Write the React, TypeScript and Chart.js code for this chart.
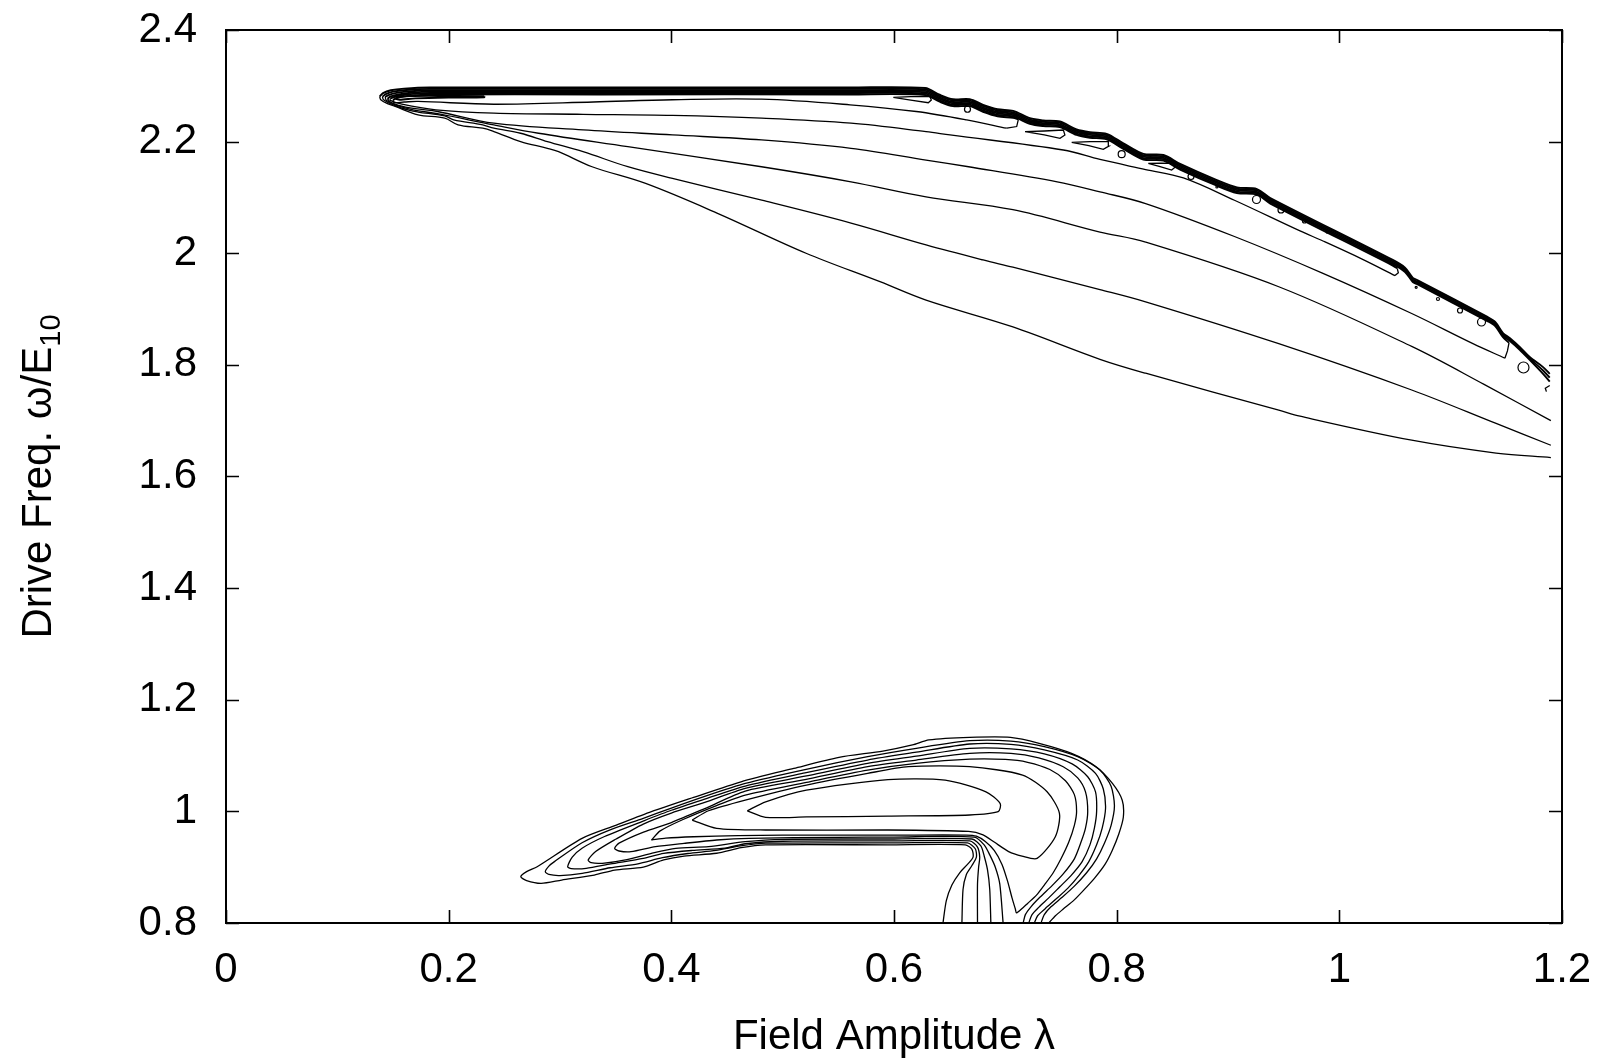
import { useEffect, useRef } from 'react';
import { Chart, registerables } from 'chart.js';

Chart.register(...registerables);

type Pt = [number, number];

// ---------- axes ----------
const xTickValues = [0, 0.2, 0.4, 0.6, 0.8, 1.0, 1.2];
const yTickValues = [0.8, 1.0, 1.2, 1.4, 1.6, 1.8, 2.0, 2.2, 2.4];
const xTitle = 'Field Amplitude λ';
const yTitleMain = 'Drive Freq. ω/E';
const yTitleSub = '10';

// ---------- upper resonance (ω ≈ 1.6 – 2.3) ----------
// ridge parts run from the right edge along the crest to the tip,
// lower parts run from the tip back out to the right
const ridgeF: Pt[] = [
  [1.189, 1.784], [1.183, 1.796], [1.171, 1.814], [1.162, 1.832], [1.153, 1.848], [1.147, 1.857],
  [1.140, 1.877], [1.133, 1.886], [1.070, 1.952], [1.066, 1.956], [1.059, 1.974], [1.048, 1.988],
  [0.938, 2.099], [0.926, 2.115], [0.908, 2.118], [0.890, 2.131], [0.857, 2.160], [0.842, 2.176],
  [0.824, 2.178], [0.806, 2.197], [0.791, 2.214], [0.776, 2.217], [0.764, 2.222], [0.749, 2.236],
  [0.734, 2.238], [0.722, 2.242], [0.707, 2.255], [0.693, 2.258], [0.680, 2.266], [0.668, 2.276],
  [0.653, 2.276], [0.641, 2.284], [0.628, 2.296], [0.560, 2.297], [0.336, 2.297], [0.183, 2.297],
  [0.160, 2.295], [0.148, 2.292], [0.141, 2.287], [0.138, 2.281],
];
const lowF: Pt[] = [
  [0.138, 2.281], [0.139, 2.275], [0.145, 2.268], [0.152, 2.263], [0.1725, 2.248], [0.1965, 2.242], [0.2084, 2.230],
  [0.2306, 2.224], [0.2406, 2.218], [0.2646, 2.200], [0.2887, 2.188], [0.2987, 2.182], [0.3288, 2.155],
  [0.3769, 2.125], [0.441, 2.072], [0.521, 2.000], [0.5874, 1.949], [0.6288, 1.916], [0.7068, 1.868],
  [0.785, 1.810], [0.826, 1.785], [0.9456, 1.719], [0.9647, 1.708], [1.065, 1.665], [1.1408, 1.642],
  [1.19, 1.634],
];

const ridgeE: Pt[] = [
  [1.189, 1.777], [1.183, 1.790], [1.171, 1.8115], [1.162, 1.8295], [1.153, 1.8455], [1.147, 1.8545],
  [1.140, 1.8745], [1.133, 1.8835], [1.070, 1.9495], [1.066, 1.9535], [1.059, 1.9715], [1.048, 1.9855],
  [0.938, 2.0965], [0.926, 2.1125], [0.908, 2.1155], [0.890, 2.1285], [0.857, 2.1575], [0.842, 2.1735],
  [0.824, 2.1755], [0.806, 2.1945], [0.791, 2.2115], [0.776, 2.2145], [0.764, 2.2195], [0.749, 2.2335],
  [0.734, 2.2355], [0.722, 2.2395], [0.707, 2.2525], [0.693, 2.2555], [0.680, 2.2635], [0.668, 2.2735],
  [0.653, 2.2735], [0.641, 2.2815], [0.628, 2.2935], [0.560, 2.2945], [0.336, 2.2945], [0.183, 2.2945],
  [0.162, 2.2925], [0.150, 2.2895], [0.1435, 2.285], [0.1405, 2.2805],
];
const lowE: Pt[] = [
  [0.1405, 2.2805], [0.1415, 2.275], [0.150, 2.266], [0.165, 2.256], [0.1725, 2.253], [0.1965, 2.246], [0.2045, 2.239],
  [0.2306, 2.230], [0.2406, 2.224], [0.2646, 2.215], [0.2887, 2.200], [0.3207, 2.182], [0.3609, 2.155],
  [0.401, 2.134], [0.4812, 2.095], [0.5614, 2.054], [0.6288, 2.015], [0.680, 1.988], [0.7068, 1.975],
  [0.785, 1.935], [0.826, 1.913], [0.9456, 1.838], [1.065, 1.755], [1.1408, 1.695], [1.19, 1.656],
];

const ridgeD: Pt[] = [
  [1.189, 1.770], [1.183, 1.784], [1.171, 1.809], [1.162, 1.827], [1.153, 1.843], [1.147, 1.852],
  [1.140, 1.872], [1.133, 1.881], [1.070, 1.947], [1.066, 1.951], [1.059, 1.969], [1.048, 1.983],
  [0.938, 2.094], [0.926, 2.110], [0.908, 2.113], [0.890, 2.126], [0.857, 2.155], [0.842, 2.171],
  [0.824, 2.173], [0.806, 2.192], [0.791, 2.209], [0.776, 2.212], [0.764, 2.217], [0.749, 2.231],
  [0.734, 2.233], [0.722, 2.237], [0.707, 2.250], [0.693, 2.253], [0.680, 2.261], [0.668, 2.271],
  [0.653, 2.271], [0.641, 2.279], [0.628, 2.291], [0.560, 2.292], [0.336, 2.292], [0.183, 2.292],
  [0.164, 2.290], [0.152, 2.287], [0.146, 2.2835], [0.143, 2.280],
];
const lowD: Pt[] = [
  [0.143, 2.280], [0.144, 2.274], [0.152, 2.266], [0.168, 2.257], [0.19, 2.250], [0.2406, 2.230], [0.2807, 2.215],
  [0.3609, 2.191], [0.481, 2.155], [0.5614, 2.128], [0.6288, 2.101], [0.7068, 2.078], [0.785, 2.038],
  [0.826, 2.020], [0.9456, 1.940], [1.065, 1.833], [1.13, 1.765], [1.19, 1.700],
];

// closed contours whose crest part ends in a hook under the ridge
const ridgeC: Pt[] = [
  [1.1524, 1.8395], [1.147, 1.8495], [1.140, 1.8695], [1.133, 1.8785], [1.070, 1.9445], [1.066, 1.9485],
  [1.059, 1.9665], [1.048, 1.9805], [0.938, 2.0915], [0.926, 2.1075], [0.908, 2.1105], [0.890, 2.1235],
  [0.857, 2.1525], [0.842, 2.1685], [0.824, 2.1705], [0.806, 2.1895], [0.791, 2.2065], [0.776, 2.2095],
  [0.764, 2.2145], [0.749, 2.2285], [0.734, 2.2305], [0.722, 2.2345], [0.707, 2.2475], [0.693, 2.2505],
  [0.680, 2.2585], [0.668, 2.2685], [0.653, 2.2685], [0.641, 2.2765], [0.628, 2.2885], [0.560, 2.2895],
  [0.336, 2.2895], [0.183, 2.2895], [0.166, 2.2875], [0.155, 2.2845], [0.148, 2.281], [0.145, 2.277],
];
const lowC: Pt[] = [
  [0.145, 2.277], [0.147, 2.272], [0.155, 2.265], [0.170, 2.259], [0.19, 2.254], [0.2406, 2.233], [0.3207, 2.221],
  [0.401, 2.212], [0.481, 2.203], [0.5614, 2.188], [0.6288, 2.167], [0.667, 2.155], [0.7466, 2.128],
  [0.785, 2.110], [0.826, 2.089], [0.9058, 2.030], [0.9853, 1.964], [1.065, 1.892], [1.12, 1.838],
  [1.1487, 1.812],
];
const hookC: Pt[] = [[1.1487, 1.812], [1.151, 1.825], [1.1524, 1.8395]];

const ridgeB: Pt[] = [
  [1.052, 1.973], [1.048, 1.978], [0.938, 2.089], [0.926, 2.105], [0.908, 2.108], [0.890, 2.121],
  [0.857, 2.150], [0.842, 2.166], [0.824, 2.168], [0.806, 2.187], [0.791, 2.204], [0.776, 2.207],
  [0.764, 2.212], [0.749, 2.226], [0.734, 2.228], [0.722, 2.232], [0.707, 2.245], [0.693, 2.248],
  [0.680, 2.256], [0.668, 2.266], [0.653, 2.266], [0.641, 2.274], [0.628, 2.286], [0.560, 2.287],
  [0.336, 2.287], [0.183, 2.287], [0.168, 2.2855], [0.158, 2.283], [0.151, 2.280], [0.1475, 2.277],
];
const lowB: Pt[] = [
  [0.1475, 2.277], [0.1475, 2.274], [0.158, 2.267], [0.1885, 2.257], [0.2406, 2.251], [0.3207, 2.249], [0.401, 2.247],
  [0.4812, 2.242], [0.5614, 2.233], [0.6288, 2.218], [0.6503, 2.212], [0.7521, 2.185], [0.785, 2.168],
  [0.826, 2.150], [0.8599, 2.135], [0.9058, 2.095], [0.9647, 2.040], [0.9853, 2.022], [1.02, 1.990],
  [1.05, 1.960],
];
const hookB: Pt[] = [[1.05, 1.960], [1.053, 1.965], [1.052, 1.973]];

const ridgeA: Pt[] = [
  [0.7117, 2.240], [0.707, 2.2425], [0.693, 2.2455], [0.680, 2.2535], [0.668, 2.2635], [0.653, 2.2635],
  [0.641, 2.2715], [0.628, 2.2835], [0.560, 2.2845], [0.336, 2.2845], [0.183, 2.2845], [0.170, 2.283],
  [0.160, 2.281], [0.153, 2.278], [0.150, 2.2745],
];
const lowA: Pt[] = [
  [0.150, 2.2745], [0.151, 2.270], [0.160, 2.271], [0.1725, 2.272], [0.2406, 2.267], [0.33, 2.271], [0.401, 2.275],
  [0.481, 2.276], [0.5605, 2.266], [0.620, 2.254], [0.6653, 2.239], [0.7013, 2.224],
];
const hookA: Pt[] = [[0.7013, 2.224], [0.7102, 2.227], [0.7117, 2.240]];

const tipLoop: Pt[] = [
  [0.232, 2.2815], [0.183, 2.2822], [0.165, 2.2815], [0.155, 2.2795], [0.1525, 2.277], [0.156, 2.275],
  [0.170, 2.2775], [0.200, 2.279], [0.232, 2.2795], [0.232, 2.2815],
];

// pockets trapped under the ridge
const pocket1: Pt[] = [
  [0.5994, 2.2794], [0.615, 2.2745], [0.6308, 2.2697], [0.6335, 2.2745], [0.6324, 2.2805], [0.615, 2.2808], [0.5994, 2.2794],
];
const pocket2: Pt[] = [
  [0.7177, 2.2178], [0.735, 2.212], [0.7491, 2.206], [0.7535, 2.212], [0.7521, 2.2208], [0.735, 2.219], [0.7177, 2.2178],
];
const pocket3: Pt[] = [
  [0.7596, 2.1988], [0.775, 2.193], [0.788, 2.1862], [0.793, 2.192], [0.7925, 2.1999], [0.776, 2.200], [0.7596, 2.1988],
];
const pocket4: Pt[] = [
  [0.8284, 2.1611], [0.839, 2.155], [0.8494, 2.1491], [0.853, 2.155], [0.8524, 2.1611], [0.840, 2.1615], [0.8284, 2.1611],
];
const edgeArc: Pt[] = [[1.186, 1.752], [1.185, 1.758], [1.189, 1.763]];

// small islands along the ridge
const islands: Pt[] = [
  [0.666, 2.258], [0.8045, 2.1775], [0.8668, 2.1375], [0.890, 2.1187], [0.9256, 2.0963], [0.9476, 2.0775],
  [0.9687, 2.0578], [0.989, 2.038], [1.0096, 2.020], [1.069, 1.939], [1.0886, 1.918], [1.1084, 1.8974],
  [1.1277, 1.8768], [1.1654, 1.7953],
];
const islandRadius = [3, 3.5, 3, 1, 4, 3, 2, 1, 1, 1, 1.5, 2.5, 4, 5.5];

// ---------- lower resonance (ω ≈ 0.8 – 1.13) ----------
const lobe1: Pt[] = [
  [0.4682, 1.001], [0.4847, 1.017], [0.5213, 1.038], [0.5946, 1.057], [0.6459, 1.056], [0.6826, 1.035],
  [0.6954, 1.014], [0.6936, 0.9994], [0.6679, 0.9935], [0.5946, 0.9915], [0.5213, 0.990], [0.4847, 0.9893],
  [0.4682, 1.001],
];
const lobe2: Pt[] = [
  [0.4187, 0.9845], [0.4334, 1.0011], [0.4664, 1.0203], [0.5213, 1.0472], [0.5763, 1.0681], [0.6129, 1.080],
  [0.6679, 1.080], [0.7155, 1.0651], [0.7375, 1.0352], [0.7486, 0.9966], [0.7449, 0.9546], [0.7285, 0.9158],
  [0.715, 0.920], [0.703, 0.928], [0.690, 0.945], [0.680, 0.958], [0.667, 0.964], [0.5946, 0.9666],
  [0.4847, 0.9666], [0.4407, 0.9696], [0.4187, 0.9845],
];
const lobe3: Pt[] = [
  [0.3821, 0.9487], [0.395, 0.952], [0.420, 0.9545], [0.460, 0.9565], [0.500, 0.9575], [0.600, 0.9575],
  [0.665, 0.9575], [0.674, 0.9555], [0.682, 0.946], [0.690, 0.930], [0.697, 0.905], [0.702, 0.875],
  [0.706, 0.845], [0.709, 0.825], [0.710, 0.818], [0.714, 0.824], [0.720, 0.835], [0.728, 0.850],
  [0.735, 0.868], [0.743, 0.890], [0.750, 0.915], [0.757, 0.945], [0.762, 0.975], [0.764, 1.000],
  [0.762, 1.030], [0.754, 1.055], [0.740, 1.075], [0.720, 1.088], [0.700, 1.093], [0.668, 1.0935],
  [0.620, 1.086], [0.5763, 1.074], [0.5213, 1.052], [0.4664, 1.0292], [0.440, 1.010], [0.410, 0.985],
  [0.390, 0.965], [0.3821, 0.9487],
];
const lobe4: Pt[] = [
  [0.698, 0.80], [0.695, 0.870], [0.691, 0.900], [0.686, 0.922], [0.681, 0.940], [0.672, 0.954],
  [0.600, 0.954], [0.550, 0.9535], [0.470, 0.9517], [0.4407, 0.9487], [0.4114, 0.9427], [0.3857, 0.9367],
  [0.3638, 0.9277], [0.353, 0.929], [0.3491, 0.9337], [0.353, 0.943], [0.375, 0.963], [0.400, 0.980],
  [0.430, 1.005], [0.4664, 1.0364], [0.520, 1.057], [0.5763, 1.080], [0.620, 1.092], [0.668, 1.104],
  [0.705, 1.104], [0.730, 1.096], [0.752, 1.080], [0.765, 1.060], [0.772, 1.035], [0.774, 1.000],
  [0.772, 0.970], [0.768, 0.945], [0.762, 0.915], [0.752, 0.888], [0.742, 0.867], [0.731, 0.846],
  [0.723, 0.829], [0.718, 0.815], [0.716, 0.80],
];
const lobe5: Pt[] = [
  [0.687, 0.80], [0.686, 0.860], [0.684, 0.895], [0.681, 0.920], [0.678, 0.938], [0.670, 0.9505],
  [0.600, 0.9505], [0.500, 0.950], [0.4664, 0.9457], [0.4334, 0.9367], [0.404, 0.9337], [0.3821, 0.9248],
  [0.3601, 0.9137], [0.338, 0.907], [0.328, 0.908], [0.3253, 0.913], [0.332, 0.928], [0.350, 0.950],
  [0.3748, 0.9773], [0.400, 0.997], [0.430, 1.016], [0.4664, 1.0413], [0.520, 1.063], [0.5763, 1.086],
  [0.620, 1.099], [0.668, 1.113], [0.705, 1.112], [0.735, 1.103], [0.760, 1.085], [0.774, 1.062],
  [0.781, 1.035], [0.782, 1.000], [0.780, 0.970], [0.776, 0.940], [0.769, 0.910], [0.759, 0.885],
  [0.749, 0.865], [0.739, 0.845], [0.730, 0.828], [0.724, 0.815], [0.721, 0.80],
];
const lobe6: Pt[] = [
  [0.675, 0.80], [0.675, 0.870], [0.676, 0.900], [0.677, 0.918], [0.675, 0.936], [0.668, 0.947],
  [0.600, 0.947], [0.500, 0.9465], [0.4664, 0.942], [0.4481, 0.934], [0.4187, 0.930], [0.3931, 0.9247],
  [0.3748, 0.9157], [0.3455, 0.9058], [0.3235, 0.8979], [0.310, 0.8975], [0.3069, 0.9009], [0.311, 0.918],
  [0.3198, 0.934], [0.340, 0.955], [0.3748, 0.9827], [0.400, 1.002], [0.430, 1.022], [0.4664, 1.0454],
  [0.520, 1.069], [0.5763, 1.092], [0.620, 1.106], [0.668, 1.1207], [0.705, 1.120], [0.735, 1.110],
  [0.765, 1.092], [0.781, 1.068], [0.788, 1.040], [0.790, 1.005], [0.787, 0.970], [0.782, 0.940],
  [0.775, 0.910], [0.766, 0.885], [0.756, 0.862], [0.745, 0.842], [0.736, 0.826], [0.729, 0.813],
  [0.726, 0.80],
];
const lobe7: Pt[] = [
  [0.661, 0.80], [0.662, 0.860], [0.665, 0.887], [0.670, 0.903], [0.674, 0.918], [0.673, 0.933],
  [0.666, 0.9435], [0.600, 0.9435], [0.485, 0.943], [0.462, 0.938], [0.440, 0.930], [0.415, 0.9245],
  [0.392, 0.917], [0.370, 0.906], [0.345, 0.899], [0.320, 0.889], [0.300, 0.885], [0.290, 0.887],
  [0.2868, 0.8919], [0.290, 0.902], [0.295, 0.910], [0.3198, 0.9438], [0.345, 0.967], [0.3748, 0.9875],
  [0.400, 1.006], [0.430, 1.027], [0.4664, 1.0502], [0.520, 1.075], [0.5763, 1.098], [0.620, 1.113],
  [0.668, 1.1266], [0.705, 1.126], [0.735, 1.116], [0.765, 1.098], [0.785, 1.074], [0.795, 1.045],
  [0.798, 1.010], [0.795, 0.975], [0.789, 0.943], [0.782, 0.915], [0.773, 0.890], [0.762, 0.866],
  [0.751, 0.846], [0.741, 0.829], [0.735, 0.815], [0.732, 0.80],
];
const lobe8: Pt[] = [
  [0.644, 0.80], [0.647, 0.840], [0.652, 0.868], [0.659, 0.890], [0.666, 0.905], [0.671, 0.918],
  [0.670, 0.932], [0.664, 0.940], [0.5946, 0.940], [0.4847, 0.940], [0.4627, 0.935], [0.4407, 0.925],
  [0.4114, 0.920], [0.3931, 0.913], [0.3748, 0.900], [0.3491, 0.8949], [0.3308, 0.8859], [0.3015, 0.877],
  [0.2831, 0.871], [0.270, 0.876], [0.2648, 0.8829], [0.270, 0.892], [0.2795, 0.9009], [0.3198, 0.9517],
  [0.350, 0.975], [0.3821, 0.9994], [0.420, 1.025], [0.4626, 1.053], [0.510, 1.077], [0.5506, 1.0968],
  [0.590, 1.108], [0.6166, 1.119], [0.6313, 1.128], [0.6679, 1.1326], [0.7046, 1.1326], [0.7303, 1.122],
  [0.7595, 1.104], [0.7815, 1.080], [0.7962, 1.050], [0.805, 1.020], [0.806, 0.990], [0.802, 0.960],
  [0.796, 0.930], [0.7895, 0.905], [0.780, 0.880], [0.770, 0.858], [0.7617, 0.841], [0.752, 0.825],
  [0.745, 0.813], [0.739, 0.80],
];

// crest lines pack into the dark ridge band
const crestPaths: Pt[][] = [ridgeF, ridgeE, ridgeD, ridgeC, ridgeB, ridgeA, tipLoop];
// smooth flanks
const flankPaths: Pt[][] = [lowF, lowE, lowD, lowC, lowB, lowA];
// sharp little features drawn straight
const sharpPaths: Pt[][] = [hookC, hookB, hookA, pocket1, pocket2, pocket3, pocket4, edgeArc];
const lobePaths: Pt[][] = [lobe1, lobe2, lobe3, lobe4, lobe5, lobe6, lobe7, lobe8];

const FONT = "'Liberation Sans', Arial, Helvetica, sans-serif";
const fmtTick = (v: number) => String(Math.round(v * 10) / 10);

const framePlugin = {
  id: 'frameAndTitles',
  afterDatasetsDraw(chart: any) {
    const { ctx, chartArea, scales } = chart;
    const { left, right, top, bottom } = chartArea;
    const xs = scales.x;
    const ys = scales.y;
    ctx.save();
    ctx.strokeStyle = '#000';
    ctx.lineWidth = 2;
    ctx.strokeRect(left, top, right - left, bottom - top);
    ctx.lineWidth = 1.6;
    const tl = 13;
    ctx.beginPath();
    for (const v of xTickValues) {
      const px = Math.round(xs.getPixelForValue(v)) + 0.5;
      ctx.moveTo(px, bottom);
      ctx.lineTo(px, bottom - tl);
      ctx.moveTo(px, top);
      ctx.lineTo(px, top + tl);
    }
    for (const v of yTickValues) {
      const py = Math.round(ys.getPixelForValue(v)) + 0.5;
      ctx.moveTo(left, py);
      ctx.lineTo(left + tl, py);
      ctx.moveTo(right, py);
      ctx.lineTo(right - tl, py);
    }
    ctx.stroke();

    // axis titles
    ctx.fillStyle = '#000';
    ctx.textBaseline = 'alphabetic';
    ctx.font = `42px ${FONT}`;
    ctx.textAlign = 'center';
    ctx.fillText(xTitle, (left + right) / 2, 1049);

    ctx.translate(51, (top + bottom) / 2);
    ctx.rotate(-Math.PI / 2);
    ctx.textAlign = 'left';
    ctx.font = `42px ${FONT}`;
    const w1 = ctx.measureText(yTitleMain).width;
    ctx.font = `29px ${FONT}`;
    const w2 = ctx.measureText(yTitleSub).width;
    const start = -(w1 + w2) / 2;
    ctx.font = `42px ${FONT}`;
    ctx.fillText(yTitleMain, start, 0);
    ctx.font = `29px ${FONT}`;
    ctx.fillText(yTitleSub, start + w1, 9);
    ctx.restore();
  },
};

const lineSet = (path: Pt[], width: number, tension: number) => ({
  data: path.map(([x, y]) => ({ x, y })),
  showLine: true,
  borderColor: '#000',
  borderWidth: width,
  pointRadius: 0,
  fill: false,
  tension,
});

export default function App() {
  const canvasRef = useRef<HTMLCanvasElement | null>(null);

  useEffect(() => {
    document.body.style.margin = '0';
    const canvas = canvasRef.current;
    if (!canvas) return;

    const datasets: any[] = [
      ...crestPaths.map((p) => lineSet(p, 1.9, 0.3)),
      ...flankPaths.map((p) => lineSet(p, 1.3, 0.35)),
      ...sharpPaths.map((p) => lineSet(p, 1.3, 0)),
      ...lobePaths.map((p) => lineSet(p, 1.3, 0.25)),
    ];
    datasets.push({
      data: islands.map(([x, y]) => ({ x, y })),
      showLine: false,
      pointStyle: 'circle',
      pointRadius: islandRadius,
      pointBorderColor: '#000',
      pointBackgroundColor: 'rgba(0,0,0,0)',
      pointBorderWidth: 1.2,
    });

    const chart = new Chart(canvas, {
      type: 'scatter',
      data: { datasets },
      options: {
        responsive: false,
        animation: false,
        maintainAspectRatio: false,
        layout: { autoPadding: false, padding: { top: 30, right: 42, left: 0, bottom: 0 } },
        plugins: { legend: { display: false }, tooltip: { enabled: false }, title: { display: false } },
        scales: {
          x: {
            type: 'linear',
            min: 0,
            max: 1.2,
            afterBuildTicks: (s: any) => {
              s.ticks = xTickValues.map((v) => ({ value: v }));
            },
            afterFit: (s: any) => {
              s.height = 137;
              s.paddingLeft = 0;
              s.paddingRight = 0;
            },
            ticks: {
              autoSkip: false,
              maxRotation: 0,
              padding: 22,
              color: '#000',
              font: { family: FONT, size: 42 },
              callback: (v: any) => fmtTick(Number(v)),
            },
            grid: { display: false, drawTicks: false },
            border: { display: false },
          },
          y: {
            type: 'linear',
            min: 0.8,
            max: 2.4,
            afterBuildTicks: (s: any) => {
              s.ticks = yTickValues.map((v) => ({ value: v }));
            },
            afterFit: (s: any) => {
              s.width = 226;
              s.paddingTop = 0;
              s.paddingBottom = 0;
            },
            ticks: {
              autoSkip: false,
              padding: 29,
              color: '#000',
              font: { family: FONT, size: 42 },
              callback: (v: any) => fmtTick(Number(v)),
            },
            grid: { display: false, drawTicks: false },
            border: { display: false },
          },
        },
      },
      plugins: [framePlugin],
    });

    return () => chart.destroy();
  }, []);

  return (
    <div style={{ width: 1604, height: 1060, background: '#fff' }}>
      <canvas ref={canvasRef} width={1604} height={1060} style={{ display: 'block', width: 1604, height: 1060 }} />
    </div>
  );
}
